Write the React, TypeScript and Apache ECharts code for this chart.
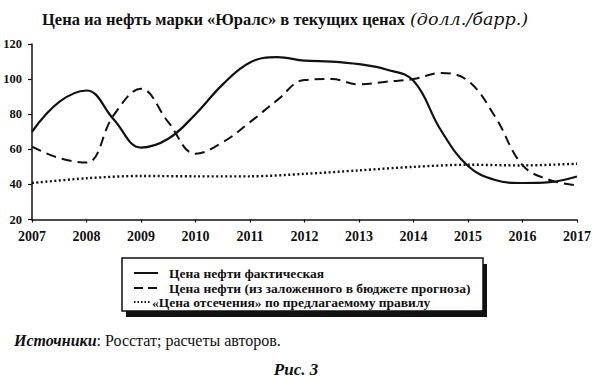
import React, { useEffect, useRef } from "react";
import * as echarts from "echarts";

const halfYears = [2007, 2007.5, 2008, 2008.5, 2009, 2009.5, 2010, 2010.5, 2011, 2011.5, 2012, 2012.5, 2013, 2013.5, 2014, 2014.5, 2015, 2015.5, 2016, 2016.5, 2017];
const actualPrice = [70, 87, 93.5, 77, 61, 66, 80, 97, 109.5, 112.5, 110.5, 110, 108.5, 105.5, 99, 71, 50.5, 42.5, 40.8, 41.3, 44.5];
const budgetPrice = [61.5, 55, 52.5, 79.5, 94.5, 75.5, 57.5, 64, 75.5, 88, 99.5, 100, 97, 98.5, 100, 103.5, 99, 78.5, 51, 42.5, 39.5];
const years = [2007, 2008, 2009, 2010, 2011, 2012, 2013, 2014, 2015, 2016, 2017];
const cutoffPrice = [40.8, 43.5, 44.8, 44.6, 44.6, 46, 48, 50, 51.2, 50.8, 51.8];

const seriesNames = [
  "Цена нефти фактическая",
  "Цена нефти (из заложенного в бюджете прогноза)",
  "«Цена отсечения» по предлагаемому правилу",
];

const FONT = "Liberation Serif";
const WIDE = "DejaVu Serif";

export default function App() {
  const ref = useRef<HTMLDivElement>(null);
  useEffect(() => {
    document.body.style.margin = "0";
    if (!ref.current) return;
    const chart = echarts.init(ref.current, null, { renderer: "svg" });
    const pair = (xs: number[], ys: number[]) => xs.map((x, i) => [x, ys[i]]);
    const legendRows = [
      { y: 273, dash: null as number[] | null, width: 2, text: seriesNames[0], x1: 134, x2: 158, tx: 169 },
      { y: 288, dash: [9, 5], width: 2, text: seriesNames[1], x1: 134, x2: 158, tx: 169 },
      { y: 302, dash: [1.5, 2], width: 2, text: seriesNames[2], x1: 134, x2: 150, tx: 152 },
    ];
    chart.setOption({
      animation: false,
      backgroundColor: "#fff",
      title: {
        left: 37,
        top: 5,
        text: "{b|Цена иа нефть марки «Юралс» в текущих ценах} {i|(долл./барр.)}",
        textStyle: {
          fontWeight: "normal",
          rich: {
            b: { fontFamily: FONT, fontWeight: "bold", fontSize: 16.5, color: "#111" },
            i: { fontFamily: WIDE, fontStyle: "italic", fontWeight: "normal", fontSize: 17.5, color: "#111" },
          },
        },
      },
      grid: { left: 32, right: 18, top: 44, bottom: 157.5 },
      xAxis: {
        type: "value",
        min: 2007,
        max: 2017,
        interval: 1,
        axisLine: { show: true, lineStyle: { color: "#111", width: 1.5 } },
        axisTick: { show: true, inside: false, length: 3, lineStyle: { color: "#111", width: 1.2 } },
        splitLine: { show: false },
        axisLabel: {
          formatter: (v: number) => String(v),
          fontFamily: FONT,
          fontWeight: "bold",
          fontSize: 14,
          color: "#111",
          margin: 10,
        },
      },
      yAxis: {
        type: "value",
        min: 20,
        max: 120,
        interval: 20,
        axisLine: { show: true, lineStyle: { color: "#111", width: 1.5 } },
        axisTick: { show: true, inside: false, length: 4, lineStyle: { color: "#111", width: 1.2 } },
        splitLine: { show: false },
        axisLabel: {
          fontFamily: FONT,
          fontWeight: "bold",
          fontSize: 12.5,
          color: "#111",
          margin: 10,
        },
      },
      series: [
        {
          name: seriesNames[0],
          type: "line",
          data: pair(halfYears, actualPrice),
          smooth: 0.4,
          showSymbol: false,
          symbol: "none",
          lineStyle: { color: "#111", width: 2.2, type: "solid" },
        },
        {
          name: seriesNames[1],
          type: "line",
          data: pair(halfYears, budgetPrice),
          smooth: 0.4,
          showSymbol: false,
          symbol: "none",
          lineStyle: { color: "#111", width: 2, type: [10, 6] },
        },
        {
          name: seriesNames[2],
          type: "line",
          data: pair(years, cutoffPrice),
          smooth: 0.3,
          showSymbol: false,
          symbol: "none",
          lineStyle: { color: "#111", width: 2.4, type: [2, 2.5] },
        },
      ],
      graphic: [
        { type: "rect", shape: { x: 126, y: 264, width: 361, height: 53 }, style: { fill: "#111" }, z: 10 },
        { type: "rect", shape: { x: 122, y: 258, width: 361, height: 53 }, style: { fill: "#fff", stroke: "#111", lineWidth: 1.5 }, z: 11 },
        ...legendRows.flatMap((r) => [
          {
            type: "line",
            shape: { x1: r.x1, y1: r.y, x2: r.x2, y2: r.y },
            style: { stroke: "#111", lineWidth: r.width, lineDash: r.dash || undefined },
            z: 12,
          },
          {
            type: "text",
            x: r.tx,
            y: r.y,
            style: {
              text: r.text,
              fontFamily: FONT,
              fontWeight: "bold",
              fontSize: 13.5,
              fill: "#111",
              verticalAlign: "middle",
            },
            z: 12,
          },
        ]),
        {
          type: "text",
          x: 14,
          y: 340,
          style: {
            rich: {
              i: { fontFamily: FONT, fontStyle: "italic", fontWeight: "bold", fontSize: 16, fill: "#111" },
              n: { fontFamily: FONT, fontSize: 16, fill: "#111" },
            },
            text: "{i|Источники}{n|: Росстат; расчеты авторов.}",
            verticalAlign: "middle",
          },
        },
        {
          type: "text",
          x: 296,
          y: 369,
          style: {
            text: "Рис. 3",
            fontFamily: FONT,
            fontStyle: "italic",
            fontWeight: "bold",
            fontSize: 17,
            fill: "#111",
            align: "center",
            verticalAlign: "middle",
          },
        },
      ],
    });
    return () => chart.dispose();
  }, []);
  return <div ref={ref} style={{ width: 595, height: 377 }} />;
}
